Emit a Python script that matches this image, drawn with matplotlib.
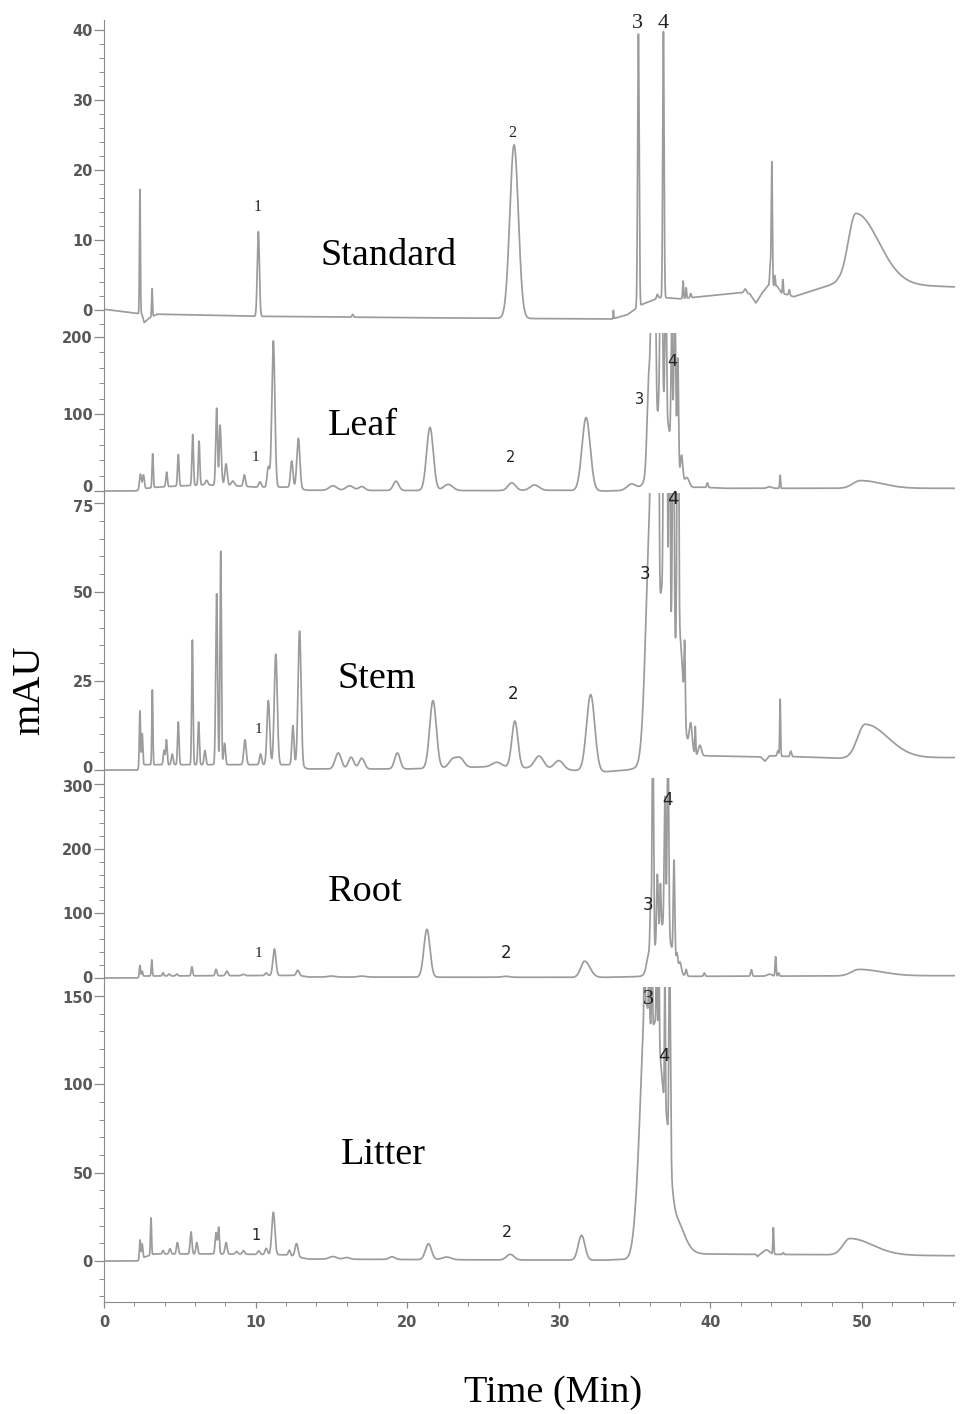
import numpy as np
import matplotlib
matplotlib.use("Agg")
import matplotlib.pyplot as plt
from matplotlib.ticker import MultipleLocator
from matplotlib.transforms import ScaledTranslation

# ---------------- data ----------------
# baselines: (time min, mAU); peaks: (time min, height above baseline, left width, right width)

STD_BASELINE = [(0, 0.1), (2.2, -0.5), (2.5, -0.6), (2.65, -1.8), (2.95, -1.2), (3.5, -0.6),
                (10, -0.9), (20, -1.1), (33.5, -1.3), (34.5, -0.7), (35.5, 0.8), (36.7, 1.8),
                (38.0, 1.6), (42.0, 2.5), (42.6, 2.3), (43.0, 1.0), (43.4, 2.4), (43.8, 3.5),
                (44.4, 3.4), (44.7, 2.4), (45.5, 1.9), (48.4, 3.9), (52, 3.6), (56.1, 3.3)]
STD_PEAKS = [(2.37, 17.8, 0.03, 0.03), (3.17, 4.0, 0.03, 0.03), (10.18, 12.1, 0.07, 0.07),
             (16.4, 0.4, 0.05, 0.05), (27.05, 24.8, 0.28, 0.28), (33.6, 1.2, 0.02, 0.02),
             (35.25, 39.0, 0.05, 0.05), (36.5, 0.6, 0.05, 0.05), (36.9, 38.0, 0.045, 0.045),
             (38.2, 2.5, 0.03, 0.03), (38.4, 1.5, 0.03, 0.03), (38.7, 0.6, 0.04, 0.04),
             (42.3, 0.6, 0.08, 0.08), (43.95, 3.0, 0.04, 0.04), (44.05, 17.6, 0.035, 0.035),
             (44.25, 1.5, 0.03, 0.03), (44.78, 2.0, 0.03, 0.03), (45.2, 0.8, 0.04, 0.04),
             (49.6, 10.0, 0.5, 1.5)]

LEAF_BASELINE = [(0, 0), (2.1, 0), (2.6, 3), (3.5, 5), (6.5, 8), (8.5, 7), (10, 5), (12.4, 5),
                 (13.4, 1), (15, 0.8), (26, 0.5), (30, 1), (33, 0), (34.2, 0.5), (39.3, 5),
                 (41, 3.5), (56.1, 3.5)]
LEAF_PEAKS = [(2.4, 20, 0.06, 0.06), (2.6, 18, 0.06, 0.06), (3.21, 44, 0.04, 0.04),
              (4.13, 19, 0.05, 0.05), (4.9, 41, 0.05, 0.05), (5.85, 66, 0.05, 0.05),
              (6.27, 57, 0.05, 0.05), (6.77, 6, 0.08, 0.08), (7.43, 100, 0.06, 0.06),
              (7.65, 78, 0.05, 0.08), (8.05, 28, 0.08, 0.08), (8.5, 6, 0.1, 0.1),
              (9.26, 15, 0.07, 0.07), (10.29, 7, 0.08, 0.08), (10.84, 26, 0.08, 0.08),
              (11.17, 190, 0.1, 0.1), (12.38, 34, 0.08, 0.08), (12.82, 65, 0.1, 0.1),
              (15.1, 6, 0.25, 0.25), (16.2, 6, 0.25, 0.25), (17.0, 5, 0.2, 0.2),
              (19.26, 12, 0.18, 0.18), (21.5, 82, 0.22, 0.22), (22.7, 8, 0.3, 0.3),
              (26.9, 10, 0.25, 0.25), (28.4, 7, 0.3, 0.3), (31.8, 95, 0.27, 0.27),
              (34.8, 8, 0.3, 0.3), (36.8, 110, 0.55, 0.55), (35.95, 120, 0.12, 0.12),
              (36.15, 250, 0.07, 0.07), (36.35, 200, 0.06, 0.06), (36.75, 260, 0.07, 0.07),
              (37.05, 180, 0.05, 0.05), (37.45, 150, 0.05, 0.05), (37.65, 220, 0.06, 0.06),
              (37.85, 150, 0.05, 0.05), (38.1, 35, 0.08, 0.08), (38.45, 12, 0.15, 0.15),
              (39.8, 6, 0.05, 0.05), (43.9, 2, 0.15, 0.15), (44.6, 17, 0.03, 0.03),
              (49.9, 10, 0.5, 1.4)]

STEM_BASELINE = [(0, 0), (2.2, 0), (2.6, 1.5), (12.5, 1.5), (13.5, 0.3), (20, 0.3), (26, 1),
                 (33, -0.5), (34.5, 0), (39.5, 4), (43.3, 3.7), (43.6, 2.5), (43.9, 4),
                 (48.5, 3.3), (56.1, 3.5)]
STEM_PEAKS = [(2.37, 16, 0.04, 0.04), (2.52, 9, 0.04, 0.04), (3.19, 21, 0.035, 0.035),
              (3.96, 4, 0.05, 0.05), (4.12, 7, 0.05, 0.05), (4.5, 3, 0.06, 0.06),
              (4.9, 12, 0.05, 0.05), (5.83, 35, 0.045, 0.045), (6.24, 12, 0.05, 0.05),
              (6.66, 4, 0.06, 0.06), (7.43, 48, 0.06, 0.06), (7.7, 60, 0.045, 0.045),
              (7.95, 6, 0.06, 0.06), (9.3, 7, 0.08, 0.08), (10.33, 3, 0.07, 0.07),
              (10.84, 18, 0.09, 0.09), (11.33, 31, 0.1, 0.1), (12.46, 11, 0.07, 0.07),
              (12.9, 38, 0.1, 0.1), (15.45, 4.5, 0.2, 0.2), (16.3, 3.3, 0.18, 0.18),
              (17.0, 3, 0.18, 0.18), (19.35, 4.5, 0.18, 0.18), (21.7, 19, 0.22, 0.22),
              (23.0, 2.3, 0.25, 0.25), (23.5, 2.5, 0.25, 0.25), (25.9, 1.2, 0.3, 0.3),
              (27.1, 13, 0.2, 0.2), (28.7, 3.5, 0.3, 0.3), (30.0, 2.5, 0.3, 0.3),
              (32.1, 21.5, 0.27, 0.27), (36.9, 50, 0.55, 0.7), (36.05, 60, 0.3, 0.2),
              (36.15, 120, 0.06, 0.06), (36.4, 100, 0.06, 0.06), (36.55, 110, 0.05, 0.05),
              (36.95, 100, 0.05, 0.05), (37.1, 90, 0.05, 0.05), (37.3, 90, 0.04, 0.04),
              (37.55, 90, 0.05, 0.05), (37.85, 100, 0.05, 0.05), (38.0, 20, 0.2, 0.2),
              (38.3, 20, 0.04, 0.04), (38.7, 8, 0.1, 0.1), (39.0, 8, 0.03, 0.03),
              (39.3, 3, 0.1, 0.1), (44.45, 1.5, 0.05, 0.05), (44.6, 16, 0.03, 0.03),
              (45.3, 1.5, 0.05, 0.05), (50.2, 9.5, 0.5, 1.5)]

ROOT_BASELINE = [(0, 0), (2.2, 0), (2.6, 3), (12.8, 4), (13.5, 1.5), (30, 1), (33, 1),
                 (35, 2), (39.5, 2.6), (56.1, 3.6)]
ROOT_PEAKS = [(2.37, 18, 0.04, 0.04), (2.52, 8, 0.04, 0.04), (3.15, 25, 0.035, 0.035),
              (3.9, 5, 0.05, 0.05), (4.3, 3, 0.06, 0.06), (4.8, 3, 0.06, 0.06),
              (5.8, 14, 0.05, 0.05), (7.39, 10, 0.06, 0.06), (8.1, 7, 0.08, 0.08),
              (9.2, 2, 0.1, 0.1), (10.7, 4, 0.08, 0.08), (11.24, 41, 0.1, 0.1),
              (12.78, 8, 0.09, 0.09), (15, 1.5, 0.25, 0.25), (17, 1.5, 0.25, 0.25),
              (21.3, 74, 0.2, 0.2), (26.5, 1.5, 0.25, 0.25), (31.7, 25, 0.25, 0.35),
              (36.9, 80, 0.5, 0.5), (35.95, 25, 0.15, 0.15), (36.05, 70, 0.04, 0.04),
              (36.2, 350, 0.05, 0.05), (36.5, 100, 0.05, 0.05), (36.7, 70, 0.04, 0.04),
              (37.0, 200, 0.05, 0.05), (37.2, 330, 0.05, 0.05), (37.6, 150, 0.05, 0.05),
              (37.8, 20, 0.05, 0.05), (38.0, 15, 0.08, 0.08), (38.4, 10, 0.05, 0.05),
              (39.6, 5, 0.05, 0.05), (42.7, 10, 0.05, 0.05), (43.9, 3, 0.15, 0.15),
              (44.3, 30, 0.035, 0.035), (44.5, 5, 0.04, 0.04), (49.8, 10, 0.5, 1.5)]

LITTER_BASELINE = [(0, 0), (2.2, 0), (2.6, 2), (3.3, 4), (8, 4), (12, 3.5), (13.5, 1.1),
                   (26, 0.6), (33, 0.5), (34.5, 1), (39, 4), (43, 3.8), (43.1, 2.5),
                   (43.3, 3.8), (48.5, 3.5), (56.1, 3)]
LITTER_PEAKS = [(2.38, 11, 0.04, 0.04), (2.52, 8, 0.04, 0.04), (3.1, 21, 0.035, 0.035),
                (3.9, 2, 0.05, 0.05), (4.35, 3, 0.06, 0.06), (4.84, 6.5, 0.06, 0.06),
                (5.74, 12.5, 0.06, 0.06), (6.12, 6.5, 0.06, 0.06), (7.39, 12, 0.06, 0.06),
                (7.56, 15, 0.05, 0.05), (8.05, 6.5, 0.07, 0.07), (8.75, 1.5, 0.08, 0.08),
                (9.2, 2, 0.08, 0.08), (10.2, 2, 0.08, 0.08), (10.7, 3.5, 0.08, 0.08),
                (11.17, 24, 0.1, 0.1), (12.23, 3, 0.07, 0.07), (12.7, 7.5, 0.1, 0.1),
                (15.1, 1.5, 0.25, 0.25), (16.0, 1, 0.2, 0.2), (19.0, 1.5, 0.2, 0.2),
                (21.4, 9, 0.2, 0.2), (22.6, 1.5, 0.3, 0.3), (26.8, 3.2, 0.25, 0.25),
                (31.5, 14, 0.22, 0.22), (35.3, 30, 0.3, 0.3), (35.75, 130, 0.3, 0.4),
                (36.5, 100, 0.3, 0.3), (37.1, 60, 0.3, 0.25), (37.6, 22, 0.3, 0.6),
                (35.65, 60, 0.03, 0.03), (35.95, 40, 0.03, 0.03), (36.15, 60, 0.03, 0.03),
                (36.45, 60, 0.03, 0.03), (36.6, 50, 0.03, 0.03), (37.0, 80, 0.03, 0.03),
                (37.3, 120, 0.04, 0.06), (43.7, 2.5, 0.2, 0.2), (44.15, 15, 0.03, 0.03),
                (44.8, 1, 0.04, 0.04), (49.2, 9.3, 0.45, 1.5)]

PANEL_NAMES = ["Standard", "Leaf", "Stem", "Root", "Litter"]

# ---------------- layout (pixels of a 961 x 1414 canvas) ----------------
W, H = 961, 1414
X_LEFT, X_RIGHT = 104, 954.5
XMAX = 56.1
LINE = "#9c9c9c"
AXC = "#8a8a8a"
TXT = "#585858"

panels = [
    # baseline, peaks, top px, bottom px, ylim, major, minor, name pos (t, y),
    # pixel nudge of the (top, bottom) tick labels so neighbouring panels do not collide
    (STD_BASELINE, STD_PEAKS, 20, 333, (-3.29, 41.43), 10, 2, (18.8, 7.7), (0, 0)),
    (LEAF_BASELINE, LEAF_PEAKS, 333, 497, (-7.8, 205.2), 100, 20, (17.1, 85), (0, 5)),
    (STEM_BASELINE, STEM_PEAKS, 493, 780, (-2.8, 77.8), 25, 5, (18.0, 25.5), (-3, 3)),
    (ROOT_BASELINE, ROOT_PEAKS, 778, 990, (-18.6, 309.3), 100, 20, (17.2, 134), (-2, 1)),
    (LITTER_BASELINE, LITTER_PEAKS, 987, 1302, (-23.2, 155.1), 50, 10, (18.4, 60), (-1, 0)),
]

peak_labels = [
    [("1", 10.16, 14.7, "serif", 11.5), ("2", 26.9, 25.3, "serif", 11.5),
     ("3", 35.2, 41.0, "serif", 16), ("4", 36.9, 41.0, "serif", 16)],
    [("1", 10.0, 44, "serif", 11), ("2", 26.8, 44, "sans-serif", 10.5),
     ("3", 35.3, 119, "sans-serif", 10.5), ("4", 37.5, 168, "sans-serif", 11.5)],
    [("1", 10.2, 11.5, "serif", 11), ("2", 27.0, 21.3, "sans-serif", 12),
     ("3", 35.7, 55, "sans-serif", 12), ("4", 37.5, 76.0, "sans-serif", 13)],
    [("1", 10.2, 38, "serif", 11), ("2", 26.5, 38, "sans-serif", 12),
     ("3", 35.9, 113, "sans-serif", 12), ("4", 37.2, 275, "sans-serif", 12)],
    [("1", 10.0, 14.7, "sans-serif", 10.5), ("2", 26.6, 16, "sans-serif", 11.5),
     ("3", 35.9, 148, "serif", 16), ("4", 36.9, 116, "sans-serif", 13)],
]


def trace(t, baseline, peaks):
    bt, bv = zip(*baseline)
    y = np.interp(t, bt, bv)
    for t0, h, wl, wr in peaks:
        w = np.where(t < t0, wl, wr)
        y = y + h * np.exp(-0.5 * ((t - t0) / w) ** 2)
    return y


plt.rcParams["font.family"] = "DejaVu Sans"
SERIF = "Liberation Serif"

fig = plt.figure(figsize=(W / 100, H / 100), dpi=100)
t = np.linspace(0, XMAX, 14000)

for i, (base, peaks, top, bot, ylim, major, minor, npos, nudge) in enumerate(panels):
    ax = fig.add_axes([X_LEFT / W, 1 - bot / H, (X_RIGHT - X_LEFT) / W, (bot - top) / H])
    ax.patch.set_visible(False)
    ax.plot(t, trace(t, base, peaks), color=LINE, lw=1.25)
    ax.set_xlim(0, XMAX)
    ax.set_ylim(*ylim)
    for s in ("top", "right"):
        ax.spines[s].set_visible(False)
    ax.spines["left"].set_color(AXC)
    ax.yaxis.set_major_locator(MultipleLocator(major))
    ax.yaxis.set_minor_locator(MultipleLocator(minor))
    ax.tick_params(axis="y", which="major", length=7, width=0.9, color=AXC,
                   labelsize=10.5, labelcolor=TXT, pad=1)
    ax.tick_params(axis="y", which="minor", length=3.5, width=0.7, color=AXC)
    yt = [v for v in ax.get_yticks() if 0 <= v <= ylim[1]]
    ax.set_yticks(yt)
    ylabels = ax.get_yticklabels()
    for lab in ylabels:
        lab.set_fontweight("bold")
    for lab, dy in ((ylabels[-1], nudge[0]), (ylabels[0], nudge[1])):
        if dy:
            lab.set_transform(lab.get_transform()
                              + ScaledTranslation(0, dy / 100, fig.dpi_scale_trans))
    if i < 4:
        ax.spines["bottom"].set_visible(False)
        ax.set_xticks([])
    else:
        ax.spines["bottom"].set_color(AXC)
        ax.xaxis.set_major_locator(MultipleLocator(10))
        ax.xaxis.set_minor_locator(MultipleLocator(2))
        ax.tick_params(axis="x", which="major", length=4.5, width=0.9, color=AXC,
                       labelsize=10.5, labelcolor=TXT, pad=5)
        ax.tick_params(axis="x", which="minor", length=3, width=0.7, color=AXC)
        for lab in ax.get_xticklabels():
            lab.set_fontweight("bold")
    ax.text(npos[0], npos[1], PANEL_NAMES[i], family=SERIF, fontsize=27.5,
            ha="center", va="center", color="black")
    for lab, lx, ly, fam, fs in peak_labels[i]:
        ax.text(lx, ly, lab, family=SERIF if fam == "serif" else "DejaVu Sans",
                fontsize=fs, ha="center", va="center", color="#222222")

fig.text(30 / W, 1 - 690 / H, "mAU", family=SERIF, fontsize=29, rotation=90,
         ha="center", va="center")
fig.text(553 / W, 1 - 1393 / H, "Time (Min)", family=SERIF, fontsize=27.5,
         ha="center", va="center")

fig.savefig("out.png", dpi=100)
